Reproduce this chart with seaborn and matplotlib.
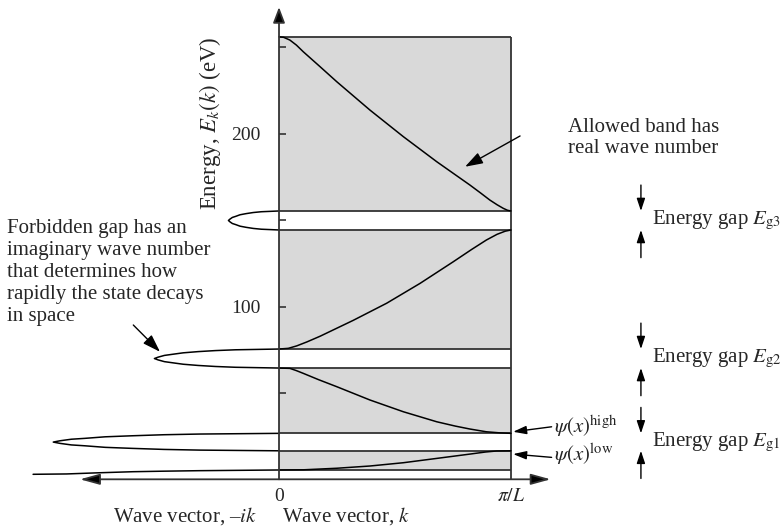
import matplotlib
matplotlib.use("Agg")
import matplotlib.pyplot as plt
import seaborn as sns
import pandas as pd

# ---------------- data (energies in eV, k in units of pi/L) ----------------
band_lo = [5.4, 26.6, 75.4, 155.3]
band_hi = [16.5, 64.4, 144.3, 256.1]

band1_k = [0.0, 0.105, 0.249, 0.392, 0.536, 0.680, 0.823, 0.89, 0.938, 1.0]
band1_E = [5.4, 5.5, 6.4, 7.7, 9.6, 12.1, 14.6, 15.8, 16.4, 16.5]

band2_k = [0.0, 0.047, 0.075, 0.105, 0.17, 0.249, 0.392, 0.536, 0.680, 0.76, 0.823, 0.894, 0.95, 1.0]
band2_E = [64.4, 64.2, 62.9, 61.3, 57.7, 53.6, 45.9, 39.1, 33.3, 30.8, 29.1, 27.5, 26.9, 26.6]

band3_k = [0.0, 0.04, 0.076, 0.12, 0.177, 0.320, 0.464, 0.608, 0.751, 0.83, 0.894, 0.94, 0.975, 1.0]
band3_E = [75.4, 75.8, 77.2, 79.5, 82.8, 92.0, 101.9, 113.4, 125.9, 133.0, 138.5, 141.8, 143.6, 144.3]

band4_k = [0.0, 0.02, 0.047, 0.075, 0.105, 0.177, 0.249, 0.392, 0.536, 0.680, 0.823, 0.87, 0.909, 0.94, 0.967, 0.985, 1.0]
band4_E = [256.1, 255.8, 254.2, 251.3, 247.4, 238.8, 230.1, 213.7, 198.3, 183.8, 170.3, 165.6, 161.6, 158.9, 156.8, 155.7, 155.3]

# imaginary wave number (plotted to the left, as -ik)
tail_kappa = [0.0, -0.17, -0.341, -0.5, -0.629, -0.772, -0.916, -1.06]
tail_E = [5.4, 5.2, 5.0, 4.7, 4.4, 3.8, 3.1, 2.9]

gap1_kappa = [0.0, -0.341, -0.496, -0.632, -0.749, -0.837, -0.895, -0.944, -0.973,
              -0.944, -0.895, -0.837, -0.749, -0.632, -0.496, -0.341, 0.0]
gap1_E = [26.6, 26.2, 25.8, 25.2, 24.6, 23.7, 23.2, 22.3, 21.55,
          20.8, 19.9, 19.4, 18.5, 17.9, 17.3, 16.9, 16.5]

gap2_kappa = [0.0, -0.188, -0.274, -0.349, -0.413, -0.462, -0.494, -0.521, -0.537,
              -0.521, -0.494, -0.462, -0.413, -0.349, -0.274, -0.188, 0.0]
gap2_E = [75.4, 74.96, 74.5, 73.9, 73.2, 72.3, 71.7, 70.7, 69.9,
          69.1, 68.1, 67.5, 66.6, 65.9, 65.3, 64.84, 64.4]

gap3_kappa = [0.0, -0.076, -0.111, -0.142, -0.168, -0.187, -0.201, -0.211, -0.218,
              -0.211, -0.201, -0.187, -0.168, -0.142, -0.111, -0.076, 0.0]
gap3_E = [155.3, 154.86, 154.4, 153.76, 153.1, 152.17, 151.56, 150.63, 149.8,
          148.97, 148.04, 147.43, 146.5, 145.84, 145.2, 144.74, 144.3]

ytick_vals = [50, 100, 150, 200, 250]
ytick_labels = ["", "100", "", "200", ""]
xtick_vals = [0, 1]
xtick_labels = ["0", r"$\pi/L$"]
gap_names = [r"Energy gap $E_{\mathrm{g1}}$", r"Energy gap $E_{\mathrm{g2}}$", r"Energy gap $E_{\mathrm{g3}}$"]

# ---------------- style ----------------
sns.set_theme(style="white")
plt.rcParams["font.family"] = ["Liberation Serif", "DejaVu Serif"]
plt.rcParams["mathtext.fontset"] = "stix"

FS = 15
GRAY = "#d9d9d9"
EDGE = "#333333"

fig = plt.figure(figsize=(7.84, 5.27), dpi=100)
ax = fig.add_axes([0, 0, 1, 1])
ax.set_xlim(-1.2026, 2.1767)
ax.set_ylim(-27.6, 277.4)

# shaded allowed bands
for lo, hi in zip(band_lo, band_hi):
    ax.fill_between([0, 1], lo, hi, color=GRAY, lw=0, zorder=0)
ax.hlines(band_lo + band_hi, 0, 1, color=EDGE, lw=1.3, zorder=2)
ax.vlines(1, 0, band_hi[-1], color=EDGE, lw=1.3, zorder=2)

# dispersion curves
curves = [(band1_k, band1_E), (band2_k, band2_E), (band3_k, band3_E), (band4_k, band4_E),
          (tail_kappa, tail_E), (gap1_kappa, gap1_E), (gap2_kappa, gap2_E), (gap3_kappa, gap3_E)]
for kk, ee in curves:
    df = pd.DataFrame({"k": kk, "E": ee})
    sns.lineplot(data=df, x="k", y="E", ax=ax, color="black", lw=1.1,
                 sort=False, estimator=None, zorder=3)

# axes with arrows
axis_kw = dict(color=EDGE, lw=1.3, shrinkA=0, shrinkB=0)
ax.annotate("", xy=(0, 273.3), xytext=(0, 0),
            arrowprops=dict(arrowstyle="-|>,head_length=0.95,head_width=0.36",
                            mutation_scale=10, fc="black", **axis_kw), zorder=4)
ax.annotate("", xy=(-0.858, 0), xytext=(1.171, 0),
            arrowprops=dict(arrowstyle="<|-|>,head_length=1.2,head_width=0.33",
                            mutation_scale=10, fc="black", **axis_kw), zorder=4)

for s in ax.spines.values():
    s.set_visible(False)
ax.spines["left"].set_position(("data", 0))
ax.spines["bottom"].set_position(("data", 0))
ax.set_yticks(ytick_vals)
ax.set_yticklabels(ytick_labels)
ax.set_xticks(xtick_vals)
ax.set_xticklabels(xtick_labels)
ax.tick_params(axis="y", direction="in", length=5, width=1.2, color=EDGE,
               pad=13, labelsize=14, left=True, right=False)
ax.tick_params(axis="x", length=0, pad=6, labelsize=14, bottom=True, top=False)
ax.grid(False)
ax.set_xlabel("")
ax.set_ylabel(r"Energy, $E_k(k)$ (eV)", fontsize=16.5)
ax.yaxis.set_label_coords(0.285, 0.767)

# axis captions
ax.text(-0.405, -21.0, r"Wave vector, –$ik$", fontsize=FS, ha="center", va="center")
ax.text(0.29, -21.0, r"Wave vector, $k$", fontsize=FS, ha="center", va="center")

# annotations
ax.text(1.246, 197.5, "Allowed band has\nreal wave number", fontsize=FS,
        ha="left", va="center", linespacing=1.1)
ax.annotate("", xy=(0.802, 180.9), xytext=(1.039, 198.7),
            arrowprops=dict(arrowstyle="-|>,head_length=0.9,head_width=0.3",
                            mutation_scale=12, color="black", lw=1.0, shrinkA=0, shrinkB=0))

ax.text(-1.172, 119.7, "Forbidden gap has an\nimaginary wave number\nthat determines how\nrapidly the state decays\nin space",
        fontsize=FS, ha="left", va="center", linespacing=1.2)
ax.annotate("", xy=(-0.513, 73.8), xytext=(-0.628, 89.3),
            arrowprops=dict(arrowstyle="-|>,head_length=0.9,head_width=0.3",
                            mutation_scale=12, color="black", lw=1.0, shrinkA=0, shrinkB=0))

ax.text(1.185, 31.0, r"$\psi(x)^{\mathrm{high}}$", fontsize=FS, ha="left", va="center", color="#222222")
ax.text(1.185, 14.3, r"$\psi(x)^{\mathrm{low}}$", fontsize=FS, ha="left", va="center", color="#222222")
ax.annotate("", xy=(1.009, 27.5), xytext=(1.175, 30.4),
            arrowprops=dict(arrowstyle="-|>,head_length=0.8,head_width=0.25",
                            mutation_scale=10, color="black", lw=1.0, shrinkA=0, shrinkB=0))
ax.annotate("", xy=(1.009, 14.6), xytext=(1.175, 12.7),
            arrowprops=dict(arrowstyle="-|>,head_length=0.8,head_width=0.25",
                            mutation_scale=10, color="black", lw=1.0, shrinkA=0, shrinkB=0))

# energy gap markers
gap_lo = band_hi[:3]
gap_hi = band_lo[1:]
xg = 1.560
for name, glo, ghi in zip(gap_names, gap_lo, gap_hi):
    ax.text(1.608, (glo + ghi) / 2, name, fontsize=FS, ha="left", va="center")
    ax.annotate("", xy=(xg, ghi), xytext=(xg, ghi + 15),
                arrowprops=dict(arrowstyle="-|>,head_length=0.75,head_width=0.25",
                                mutation_scale=10, color="black", lw=1.0, shrinkA=0, shrinkB=0))
    ax.annotate("", xy=(xg, glo), xytext=(xg, glo - 16),
                arrowprops=dict(arrowstyle="-|>,head_length=0.75,head_width=0.25",
                                mutation_scale=10, color="black", lw=1.0, shrinkA=0, shrinkB=0))

fig.savefig("out.png", dpi=100)
